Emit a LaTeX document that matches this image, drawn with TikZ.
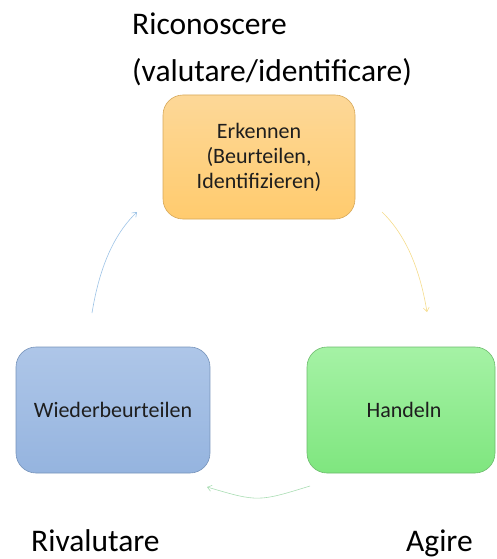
\documentclass[tikz,border=0pt]{standalone}
\usepackage{fontspec}
\setmainfont{Carlito}
\usetikzlibrary{arrows.meta}
\definecolor{orTop}{HTML}{FDD898}
\definecolor{orBot}{HTML}{FFCB6E}
\definecolor{orLine}{HTML}{D6A85A}
\definecolor{blTop}{HTML}{AEC6E8}
\definecolor{blBot}{HTML}{95B4DF}
\definecolor{blLine}{HTML}{7693BA}
\definecolor{grTop}{HTML}{A5F2A5}
\definecolor{grBot}{HTML}{7FE67F}
\definecolor{grLine}{HTML}{6DBB6D}
\definecolor{arBlue}{HTML}{9DC3E6}
\definecolor{arYel}{HTML}{F5DC8C}
\definecolor{arGreen}{HTML}{A9DDB3}
\definecolor{txt}{HTML}{1E1E1E}
\tikzset{
  box/.style={rounded corners=20pt, line width=0.6pt},
  boxtext/.style={text=txt, align=center, font=\fontsize{22}{25}\selectfont},
  outer/.style={anchor=base west, text=black, inner sep=0pt, font=\fontsize{31.5}{36}\selectfont},
  cyc/.style={line width=0.6pt, -{Straight Barb[length=4pt,width=6pt]}}
}
\begin{document}
\begin{tikzpicture}[x=1pt,y=-1pt]
\useasboundingbox (0,0) rectangle (496,559);
% boxes
\draw[box, draw=orLine, top color=orTop, bottom color=orBot] (163,95) rectangle (355,219);
\node[boxtext] (erk) at (259,157) {Erkennen\\(Beurteilen,\\Identifizieren)};
\draw[box, draw=blLine, top color=blTop, bottom color=blBot] (16,347) rectangle (210,473);
\node[boxtext] (wied) at (113,410) {Wiederbeurteilen};
\draw[box, draw=grLine, top color=grTop, bottom color=grBot] (307,347) rectangle (495,473);
\node[boxtext] (hand) at (404,410) {Handeln};
% arrow anchors
\coordinate (a1s) at (92,313);
\coordinate (a1e) at (137,212);
\coordinate (a2s) at (382,212);
\coordinate (a2e) at (427,312);
\coordinate (a3s) at (310,486);
\coordinate (a3e) at (207,487);
\draw[cyc, draw=arBlue] (a1s) .. controls (98,276) and (110,238) .. (a1e);
\draw[cyc, draw=arYel] (a2s) .. controls (409,238) and (421,276) .. (a2e);
\draw[cyc, draw=arGreen] (a3s) .. controls (258,502) .. (a3e);
% outer labels
\node[outer] (ric) at (132,35) {Riconoscere};
\node[outer] (val) at (132,82) {(valutare/identificare)};
\node[outer] (riv) at (31,551) {Rivalutare};
\node[outer] (agi) at (406,551) {Agire};
\end{tikzpicture}
\end{document}
